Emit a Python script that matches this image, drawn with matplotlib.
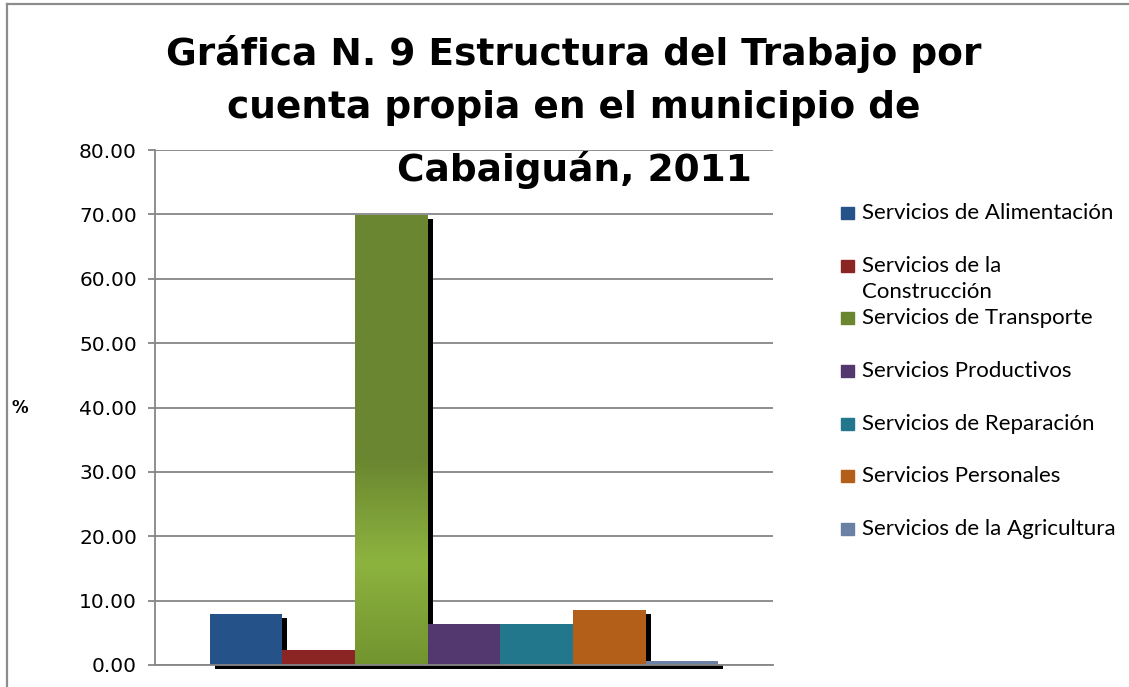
import matplotlib
matplotlib.use("Agg")
import matplotlib.pyplot as plt
import matplotlib.patheffects as pe
import numpy as np
from matplotlib.lines import Line2D
from matplotlib.patches import Rectangle

# datos
categorias = [
    "Servicios de Alimentación",
    "Servicios de la\nConstrucción",
    "Servicios de Transporte",
    "Servicios Productivos",
    "Servicios de Reparación",
    "Servicios Personales",
    "Servicios de la Agricultura",
]
porcentajes = [7.9, 2.3, 69.9, 6.4, 6.4, 8.5, 0.6]
colores = ["#26528A", "#8B2524", "#6A8630", "#52386E", "#22778D", "#B35F19", "#6A80A5"]
yticks = [0, 10, 20, 30, 40, 50, 60, 70, 80]
titulo = [
    "Gráfica N. 9 Estructura del Trabajo por",
    "cuenta propia en el municipio de",
    "Cabaiguán, 2011",
]

W, H = 1129, 687
fig = plt.figure(figsize=(W / 100, H / 100), dpi=100)


def fx(px):
    return px / W


def fy(py):
    return 1 - py / H


ax = fig.add_axes([fx(155), fy(665), fx(773 - 155), (665 - 150) / H])

x = np.arange(len(categorias))
sombra = [pe.withSimplePatchShadow(offset=(3.6, -2.9), shadow_rgbFace="black", alpha=1.0),
          pe.Normal()]
barras = ax.bar(x, porcentajes, width=1.0, color=colores, clip_on=False, zorder=2)
for b in barras:
    b.set_path_effects(sombra)

# degradado de la barra de transporte
verde = barras[2]
alto = porcentajes[2]
yy = np.linspace(0, alto, 256)
paradas = [0, 16, 32, alto]
cols = np.array([[0x72, 0x94, 0x2F], [0x8D, 0xB3, 0x3F], [0x6A, 0x86, 0x30], [0x6A, 0x86, 0x30]]) / 255
grad = np.stack([np.interp(yy, paradas, cols[:, c]) for c in range(3)], axis=-1)[:, None, :]
im = ax.imshow(grad, extent=[x[2] - 0.5, x[2] + 0.5, 0, alto], origin="lower",
               aspect="auto", zorder=2.1, interpolation="bilinear")
im.set_clip_path(verde)

ax.set_xlim(-1.25, 7.25)
ax.set_ylim(0, 80)
ax.set_xticks([])
ax.set_yticks(yticks)
ax.set_yticklabels([f"{v:.2f}" for v in yticks])
ax.tick_params(axis="y", direction="out", length=5, width=1.3, color="#868686",
               labelsize=14.5, pad=8)
ax.set_axisbelow(True)
ax.yaxis.grid(True, color="#868686", lw=1.3)
for s in ["top", "right"]:
    ax.spines[s].set_visible(False)
for s in ["left", "bottom"]:
    ax.spines[s].set_color("#868686")
    ax.spines[s].set_linewidth(1.3)

# titulo
for linea, base in zip(titulo, [65, 118, 181]):
    fig.text(fx(574), fy(base), linea, ha="center", va="baseline",
             fontsize=27, fontweight="bold", color="black")

fig.text(fx(12), fy(408), "%", fontsize=12, fontweight="bold", va="center", ha="left")

# leyenda
for i, (nom, col) in enumerate(zip(categorias, colores)):
    yc = 213 + 52.67 * i
    fig.patches.append(Rectangle((fx(841), fy(yc + 6)), fx(13), 12 / H, color=col,
                                 transform=fig.transFigure, figure=fig))
    for k, parte in enumerate(nom.split("\n")):
        fig.text(fx(862), fy(yc + 6 + 26 * k), parte, fontsize=16, family="Lato",
                 va="baseline", ha="left")

# marco
fig.add_artist(Line2D([fx(7), fx(7)], [fy(4), 0], color="#8c8c8c", lw=1.6,
                      transform=fig.transFigure))
fig.add_artist(Line2D([fx(7), 1], [fy(4), fy(4)], color="#8c8c8c", lw=1.6,
                      transform=fig.transFigure))

fig.savefig("out.png", dpi=100)
